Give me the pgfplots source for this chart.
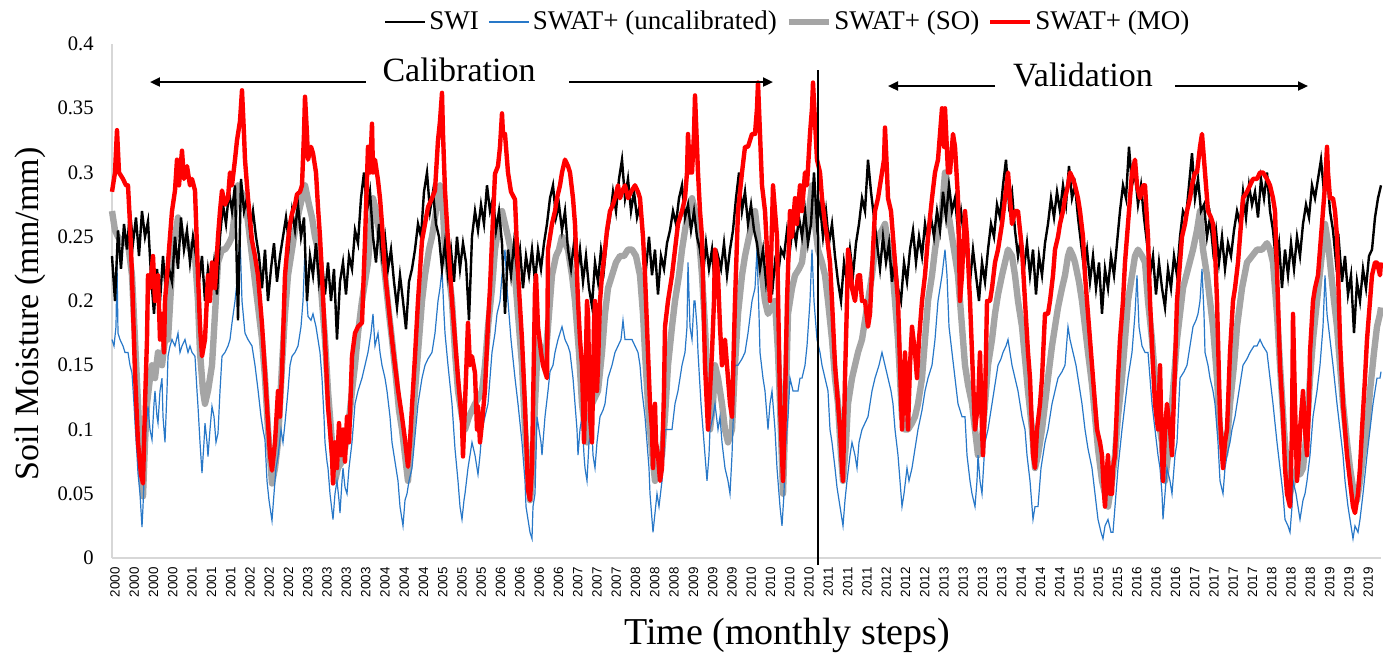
\documentclass[border=0pt]{standalone}
\usepackage{pgfplots}
\pgfplotsset{compat=1.18}
\usepackage{fontspec}
\setmainfont{Liberation Serif}
\newfontfamily\arialf{Liberation Sans}
\usetikzlibrary{arrows.meta}
\definecolor{swatblue}{RGB}{40,120,200}
\definecolor{sogray}{RGB}{165,165,165}
\definecolor{axgray}{RGB}{215,215,215}
\begin{document}
\begin{tikzpicture}
\path[use as bounding box] (-56pt,-56pt) rectangle (635.5pt,279pt);
\begin{axis}[
  at={(0,0)}, anchor=south west,
  scale only axis, width=634.5pt, height=257pt,
  xmin=-1, xmax=1268, ymin=0, ymax=0.4,
  clip=false,
  axis x line*=bottom, axis y line*=left,
  axis line style={draw=axgray, line width=0.75pt},
  major tick length=0pt,
  xtick={2,21.28,...,1256},
  xticklabels={2000,2000,2000,2000,2001,2001,2001,2002,2002,2002,2003,2003,2003,2003,2004,2004,2004,2005,2005,2005,2006,2006,2006,2006,2007,2007,2007,2008,2008,2008,2009,2009,2009,2010,2010,2010,2010,2011,2011,2011,2012,2012,2012,2013,2013,2013,2013,2014,2014,2014,2015,2015,2015,2016,2016,2016,2017,2017,2017,2017,2018,2018,2018,2019,2019,2019},
  ytick={0,0.05,0.1,0.15,0.2,0.25,0.3,0.35,0.4},
  yticklabels={0,0.05,0.1,0.15,0.2,0.25,0.3,0.35,0.4},
  xticklabel style={rotate=90, anchor=east, inner sep=0pt, font=\arialf\fontsize{6.7}{7}\selectfont},
  yticklabel style={anchor=east, inner sep=0pt, font=\rmfamily\fontsize{10.3}{11}\selectfont},
  xticklabel shift=4.5pt, yticklabel shift=9pt,
  ylabel={Soil Moisture (mm/mm)},
  ylabel style={at={(axis description cs:-0.0646,0.475)}, anchor=center, font=\fontsize{17}{18}\selectfont},
  xlabel={Time (monthly steps)},
  xlabel style={at={(axis description cs:0.532,-0.15)}, anchor=center, font=\fontsize{19}{20}\selectfont},
  legend style={at={(axis description cs:0.533,1.043)}, anchor=center, draw=none, fill=none,
    font=\fontsize{13.5}{14}\selectfont, inner sep=0pt,
    nodes={inner sep=1.5pt},
    /tikz/every even column/.append style={column sep=3pt}},
  legend columns=4,
  legend image code/.code={\draw[#1] (0pt,0pt) -- (20pt,0pt);},
]
\addlegendimage{black, line width=1pt}
\addlegendentry{SWI}
\addlegendimage{swatblue, line width=1pt}
\addlegendentry{SWAT+ (uncalibrated)}
\addlegendimage{sogray, line width=2.8pt}
\addlegendentry{SWAT+ (SO)}
\addlegendimage{red, line width=2pt}
\addlegendentry{SWAT+ (MO)}

% SWAT+ (SO)
\addplot[forget plot, sogray, line width=3.2pt, line join=round] coordinates {
(-1,0.27)(2,0.255)(5,0.25)(10,0.245)(15,0.245)(19,0.22)(22,0.17)(25,0.12)(28,0.07)(30,0.048)(32,0.09)(34,0.12)(37,0.14)(39,0.15)(42,0.14)(45,0.16)(49,0.15)(52,0.17)(55,0.17)(58,0.21)(60,0.24)(63,0.255)(65,0.265)(69,0.25)(72,0.25)(77,0.24)(82,0.235)(85,0.2)(87,0.16)(90,0.13)(92,0.12)(95,0.13)(99,0.15)(102,0.19)(105,0.23)(109,0.24)(112,0.24)(116,0.245)(119,0.25)(122,0.27)(125,0.29)(128,0.285)(132,0.28)(136,0.255)(139,0.235)(142,0.215)(145,0.196)(149,0.17)(152,0.14)(155,0.1)(159,0.058)(162,0.07)(165,0.09)(169,0.15)(172,0.19)(175,0.22)(179,0.24)(182,0.255)(186,0.27)(189,0.28)(192,0.29)(196,0.275)(199,0.265)(202,0.25)(205,0.24)(209,0.2)(212,0.17)(215,0.13)(219,0.09)(222,0.06)(225,0.07)(229,0.075)(232,0.085)(235,0.1)(239,0.13)(242,0.15)(245,0.175)(249,0.2)(252,0.215)(255,0.23)(258,0.26)(260,0.28)(263,0.27)(265,0.26)(269,0.24)(272,0.22)(276,0.19)(279,0.17)(283,0.14)(286,0.115)(289,0.1)(292,0.08)(295,0.06)(298,0.09)(302,0.13)(305,0.16)(309,0.2)(312,0.22)(316,0.24)(319,0.25)(323,0.27)(327,0.29)(330,0.27)(332,0.24)(336,0.22)(339,0.2)(342,0.16)(345,0.13)(349,0.11)(352,0.1)(356,0.11)(359,0.115)(362,0.12)(366,0.125)(369,0.13)(372,0.15)(375,0.18)(379,0.21)(382,0.24)(386,0.26)(389,0.27)(392,0.26)(395,0.25)(399,0.235)(402,0.22)(405,0.19)(409,0.15)(412,0.1)(415,0.07)(417,0.045)(419,0.06)(422,0.12)(425,0.17)(429,0.16)(432,0.15)(436,0.19)(439,0.22)(443,0.235)(446,0.24)(449,0.25)(452,0.245)(455,0.24)(459,0.22)(462,0.2)(466,0.16)(469,0.12)(472,0.1)(474,0.09)(477,0.11)(479,0.12)(482,0.125)(485,0.13)(489,0.16)(492,0.19)(495,0.21)(499,0.22)(503,0.23)(507,0.235)(511,0.235)(515,0.24)(519,0.24)(523,0.235)(527,0.22)(530,0.19)(532,0.16)(535,0.12)(537,0.1)(540,0.075)(542,0.06)(545,0.07)(549,0.08)(552,0.11)(555,0.15)(559,0.18)(562,0.2)(566,0.22)(569,0.24)(573,0.26)(576,0.27)(579,0.28)(582,0.27)(585,0.26)(589,0.22)(592,0.18)(595,0.13)(597,0.1)(600,0.12)(602,0.15)(605,0.14)(609,0.12)(612,0.1)(615,0.09)(619,0.1)(622,0.15)(625,0.19)(629,0.22)(632,0.235)(636,0.25)(639,0.26)(642,0.27)(645,0.25)(649,0.22)(652,0.2)(655,0.19)(659,0.195)(662,0.2)(665,0.16)(667,0.12)(670,0.05)(672,0.1)(675,0.19)(679,0.21)(682,0.22)(686,0.225)(689,0.23)(692,0.25)(696,0.27)(699,0.29)(702,0.26)(705,0.24)(709,0.23)(712,0.22)(715,0.2)(719,0.17)(722,0.14)(725,0.12)(728,0.08)(730,0.06)(733,0.09)(735,0.12)(739,0.14)(742,0.15)(745,0.16)(749,0.17)(752,0.185)(755,0.2)(759,0.22)(762,0.24)(765,0.25)(769,0.255)(772,0.26)(775,0.245)(779,0.23)(782,0.2)(785,0.17)(789,0.11)(792,0.1)(795,0.1)(799,0.105)(802,0.11)(805,0.12)(809,0.14)(812,0.17)(815,0.2)(819,0.22)(822,0.24)(826,0.26)(829,0.27)(832,0.3)(835,0.27)(839,0.25)(842,0.235)(845,0.22)(849,0.18)(852,0.15)(855,0.135)(859,0.12)(862,0.1)(865,0.08)(868,0.09)(870,0.1)(873,0.13)(875,0.15)(879,0.17)(882,0.19)(885,0.205)(889,0.22)(892,0.23)(895,0.24)(899,0.235)(902,0.22)(905,0.2)(909,0.18)(912,0.155)(915,0.13)(919,0.1)(922,0.07)(925,0.08)(929,0.1)(932,0.12)(935,0.14)(939,0.165)(942,0.18)(945,0.195)(949,0.21)(952,0.22)(955,0.235)(957,0.24)(960,0.235)(962,0.23)(966,0.215)(969,0.2)(972,0.18)(975,0.16)(979,0.135)(982,0.11)(985,0.085)(989,0.06)(992,0.05)(995,0.04)(999,0.06)(1002,0.08)(1005,0.11)(1009,0.14)(1012,0.17)(1015,0.2)(1019,0.22)(1022,0.235)(1025,0.24)(1029,0.235)(1032,0.23)(1035,0.2)(1039,0.17)(1042,0.14)(1045,0.11)(1049,0.09)(1052,0.06)(1055,0.08)(1057,0.1)(1061,0.14)(1064,0.17)(1067,0.19)(1070,0.21)(1075,0.225)(1080,0.24)(1084,0.255)(1087,0.27)(1090,0.24)(1094,0.22)(1097,0.2)(1100,0.18)(1104,0.14)(1107,0.1)(1110,0.085)(1112,0.08)(1115,0.1)(1117,0.12)(1121,0.15)(1124,0.18)(1129,0.21)(1134,0.23)(1139,0.235)(1144,0.24)(1149,0.24)(1154,0.245)(1157,0.24)(1160,0.23)(1164,0.19)(1167,0.15)(1171,0.1)(1174,0.07)(1177,0.05)(1180,0.06)(1184,0.07)(1187,0.065)(1190,0.07)(1194,0.1)(1197,0.14)(1200,0.17)(1204,0.2)(1208,0.23)(1212,0.26)(1215,0.245)(1217,0.23)(1221,0.2)(1224,0.18)(1227,0.15)(1230,0.12)(1234,0.09)(1237,0.07)(1241,0.05)(1244,0.045)(1247,0.06)(1250,0.08)(1254,0.1)(1257,0.13)(1261,0.16)(1264,0.18)(1267,0.19)(1268,0.195)
};

% SWAT+ (uncalibrated)
\addplot[forget plot, swatblue, line width=0.6pt] coordinates {
(-1,0.17)(1,0.165)(3,0.18)(4,0.23)(5,0.175)(7,0.17)(10,0.165)(12,0.16)(15,0.16)(17,0.15)(19,0.144)(21,0.12)(22,0.105)(24,0.08)(25,0.066)(27,0.05)(29,0.024)(30,0.04)(32,0.079)(33,0.1)(35,0.118)(37,0.1)(39,0.092)(41,0.12)(42,0.13)(44,0.11)(45,0.105)(47,0.13)(49,0.14)(50,0.11)(52,0.09)(54,0.13)(55,0.157)(57,0.165)(59,0.17)(62,0.165)(65,0.175)(67,0.16)(69,0.165)(72,0.17)(75,0.16)(77,0.165)(79,0.16)(82,0.157)(84,0.13)(85,0.118)(87,0.09)(89,0.066)(91,0.09)(92,0.105)(94,0.09)(95,0.079)(97,0.1)(99,0.118)(101,0.11)(103,0.09)(105,0.097)(107,0.13)(109,0.157)(112,0.16)(115,0.165)(117,0.17)(119,0.183)(122,0.2)(125,0.222)(127,0.25)(129,0.2)(132,0.175)(135,0.17)(139,0.165)(142,0.15)(145,0.131)(148,0.11)(150,0.1)(152,0.092)(154,0.06)(156,0.045)(159,0.029)(161,0.05)(163,0.07)(165,0.079)(168,0.1)(170,0.09)(172,0.105)(175,0.13)(177,0.15)(179,0.157)(182,0.16)(185,0.165)(188,0.18)(190,0.2)(192,0.24)(194,0.2)(195,0.188)(198,0.185)(200,0.19)(203,0.18)(205,0.17)(207,0.16)(209,0.14)(211,0.11)(212,0.09)(214,0.075)(215,0.07)(217,0.05)(220,0.03)(222,0.05)(224,0.06)(226,0.045)(227,0.035)(229,0.06)(230,0.07)(232,0.055)(234,0.05)(236,0.07)(239,0.09)(241,0.11)(242,0.12)(245,0.13)(249,0.14)(252,0.15)(255,0.16)(258,0.175)(260,0.19)(262,0.165)(265,0.175)(267,0.16)(269,0.15)(272,0.14)(274,0.13)(277,0.11)(279,0.09)(282,0.075)(285,0.06)(287,0.04)(290,0.025)(292,0.045)(294,0.05)(296,0.06)(299,0.07)(302,0.095)(305,0.12)(309,0.14)(312,0.15)(315,0.155)(319,0.16)(322,0.175)(325,0.2)(327,0.21)(329,0.225)(331,0.19)(332,0.175)(335,0.15)(339,0.12)(342,0.085)(345,0.06)(347,0.04)(349,0.03)(351,0.045)(352,0.05)(355,0.07)(357,0.08)(359,0.09)(362,0.08)(365,0.065)(367,0.08)(369,0.1)(372,0.11)(375,0.12)(377,0.14)(379,0.16)(382,0.175)(384,0.19)(387,0.2)(389,0.22)(392,0.24)(394,0.21)(395,0.2)(398,0.17)(402,0.14)(405,0.12)(409,0.09)(412,0.06)(413,0.04)(415,0.03)(417,0.02)(419,0.015)(420,0.04)(422,0.05)(424,0.11)(426,0.1)(428,0.09)(429,0.08)(431,0.1)(432,0.11)(435,0.13)(437,0.145)(440,0.15)(442,0.16)(445,0.17)(449,0.18)(452,0.17)(455,0.165)(457,0.16)(460,0.14)(462,0.12)(464,0.1)(465,0.08)(467,0.1)(469,0.11)(471,0.08)(472,0.07)(474,0.06)(476,0.09)(479,0.1)(480,0.08)(482,0.07)(484,0.09)(487,0.11)(490,0.115)(492,0.12)(495,0.14)(499,0.15)(502,0.16)(505,0.165)(508,0.17)(510,0.185)(512,0.17)(515,0.17)(519,0.17)(522,0.165)(525,0.16)(527,0.15)(529,0.13)(532,0.11)(534,0.09)(536,0.07)(537,0.05)(539,0.03)(540,0.02)(542,0.035)(544,0.05)(546,0.04)(549,0.06)(551,0.08)(552,0.1)(555,0.1)(559,0.1)(562,0.12)(565,0.13)(569,0.15)(572,0.16)(574,0.18)(575,0.23)(577,0.18)(579,0.17)(581,0.2)(582,0.2)(584,0.18)(585,0.16)(588,0.12)(590,0.1)(592,0.08)(594,0.06)(596,0.08)(597,0.1)(600,0.11)(602,0.12)(605,0.1)(607,0.11)(609,0.09)(612,0.07)(615,0.06)(617,0.05)(619,0.08)(622,0.15)(625,0.15)(629,0.155)(632,0.16)(635,0.175)(639,0.2)(642,0.21)(644,0.24)(646,0.19)(647,0.16)(650,0.14)(652,0.13)(654,0.11)(655,0.1)(657,0.12)(659,0.13)(661,0.11)(662,0.1)(664,0.07)(665,0.06)(667,0.04)(669,0.025)(671,0.05)(672,0.08)(675,0.11)(677,0.14)(680,0.13)(682,0.13)(685,0.13)(687,0.14)(689,0.14)(692,0.15)(694,0.165)(697,0.2)(699,0.24)(701,0.2)(704,0.17)(707,0.16)(709,0.15)(712,0.14)(715,0.13)(717,0.1)(719,0.09)(722,0.07)(724,0.055)(727,0.04)(729,0.03)(730,0.025)(732,0.045)(734,0.06)(737,0.08)(739,0.09)(742,0.08)(744,0.07)(746,0.09)(749,0.1)(752,0.105)(755,0.11)(759,0.13)(762,0.14)(766,0.15)(769,0.16)(772,0.15)(775,0.14)(778,0.13)(780,0.12)(782,0.1)(785,0.08)(787,0.06)(789,0.04)(791,0.05)(794,0.07)(796,0.06)(799,0.07)(802,0.085)(805,0.1)(809,0.115)(812,0.13)(815,0.14)(819,0.15)(822,0.17)(825,0.2)(829,0.22)(832,0.24)(834,0.22)(836,0.18)(839,0.16)(842,0.14)(845,0.12)(849,0.11)(852,0.11)(854,0.08)(857,0.06)(859,0.05)(862,0.04)(864,0.06)(865,0.08)(867,0.06)(869,0.05)(872,0.09)(875,0.1)(879,0.12)(882,0.135)(885,0.15)(888,0.155)(890,0.16)(893,0.165)(895,0.17)(897,0.16)(899,0.15)(902,0.14)(905,0.13)(909,0.11)(912,0.1)(914,0.08)(917,0.06)(919,0.04)(920,0.03)(922,0.04)(925,0.04)(928,0.07)(932,0.09)(935,0.1)(939,0.12)(942,0.13)(945,0.14)(949,0.145)(952,0.15)(955,0.18)(957,0.17)(960,0.16)(963,0.15)(965,0.14)(969,0.12)(972,0.1)(975,0.085)(979,0.07)(982,0.05)(985,0.03)(988,0.02)(990,0.015)(992,0.025)(995,0.03)(998,0.02)(1000,0.02)(1002,0.04)(1005,0.07)(1009,0.1)(1012,0.12)(1015,0.14)(1019,0.16)(1022,0.19)(1024,0.22)(1026,0.18)(1029,0.165)(1032,0.16)(1035,0.16)(1039,0.12)(1042,0.1)(1045,0.08)(1047,0.07)(1049,0.05)(1050,0.03)(1052,0.05)(1054,0.07)(1057,0.06)(1059,0.05)(1062,0.08)(1064,0.09)(1067,0.14)(1071,0.145)(1074,0.15)(1077,0.165)(1080,0.18)(1083,0.185)(1085,0.19)(1087,0.2)(1089,0.225)(1091,0.19)(1092,0.16)(1095,0.15)(1097,0.14)(1100,0.13)(1102,0.12)(1105,0.09)(1107,0.06)(1110,0.05)(1112,0.07)(1114,0.08)(1117,0.09)(1119,0.1)(1122,0.11)(1124,0.12)(1127,0.135)(1130,0.15)(1134,0.155)(1137,0.16)(1141,0.165)(1144,0.165)(1147,0.17)(1150,0.165)(1154,0.16)(1157,0.14)(1160,0.12)(1164,0.09)(1167,0.07)(1170,0.05)(1172,0.03)(1175,0.025)(1177,0.02)(1179,0.04)(1180,0.06)(1183,0.05)(1185,0.04)(1187,0.03)(1190,0.045)(1192,0.05)(1194,0.06)(1197,0.08)(1200,0.11)(1204,0.13)(1207,0.15)(1210,0.18)(1212,0.22)(1214,0.19)(1217,0.17)(1220,0.15)(1224,0.12)(1227,0.1)(1230,0.08)(1232,0.06)(1235,0.04)(1237,0.03)(1240,0.015)(1242,0.025)(1245,0.02)(1247,0.03)(1250,0.05)(1254,0.08)(1257,0.1)(1260,0.12)(1264,0.14)(1267,0.14)(1268,0.145)
};

% SWI
\addplot[forget plot, black, line width=1.2pt] coordinates {
(-1,0.235)(2,0.20)(5,0.255)(8,0.225)(11,0.26)(14,0.24)(17,0.27)(20,0.245)(23,0.265)(26,0.235)(29,0.27)(32,0.25)(35,0.262)(38,0.22)(41,0.19)(44,0.225)(47,0.2)(50,0.235)(53,0.205)(56,0.225)(59,0.215)(62,0.25)(65,0.225)(68,0.265)(71,0.24)(74,0.255)(77,0.23)(80,0.25)(83,0.235)(86,0.215)(89,0.235)(92,0.2)(95,0.225)(98,0.21)(101,0.23)(104,0.205)(107,0.25)(110,0.275)(113,0.26)(116,0.285)(119,0.27)(122,0.29)(125,0.185)(128,0.295)(131,0.27)(134,0.28)(137,0.255)(140,0.27)(143,0.25)(146,0.235)(149,0.21)(152,0.24)(155,0.2)(158,0.225)(161,0.245)(164,0.215)(167,0.235)(170,0.25)(173,0.265)(176,0.245)(179,0.27)(182,0.255)(185,0.275)(188,0.25)(191,0.265)(194,0.2)(197,0.235)(200,0.22)(203,0.245)(206,0.215)(209,0.23)(212,0.205)(215,0.23)(218,0.2)(221,0.225)(224,0.17)(227,0.215)(230,0.23)(233,0.205)(236,0.235)(239,0.225)(242,0.255)(245,0.245)(248,0.28)(251,0.3)(254,0.27)(257,0.285)(260,0.25)(263,0.23)(266,0.26)(269,0.235)(272,0.25)(275,0.225)(278,0.24)(281,0.215)(284,0.195)(287,0.22)(290,0.2)(293,0.178)(296,0.215)(299,0.225)(302,0.24)(305,0.26)(308,0.25)(311,0.285)(314,0.3)(317,0.27)(320,0.285)(323,0.26)(326,0.25)(329,0.225)(332,0.245)(335,0.22)(338,0.24)(341,0.215)(344,0.25)(347,0.225)(350,0.245)(353,0.23)(356,0.185)(359,0.25)(362,0.27)(365,0.255)(368,0.275)(371,0.26)(374,0.29)(377,0.27)(380,0.28)(383,0.255)(386,0.27)(389,0.245)(392,0.19)(395,0.24)(398,0.22)(401,0.245)(404,0.225)(407,0.24)(410,0.21)(413,0.235)(416,0.22)(419,0.24)(422,0.215)(425,0.24)(428,0.225)(431,0.245)(434,0.26)(437,0.28)(440,0.29)(443,0.265)(446,0.275)(449,0.255)(452,0.27)(455,0.24)(458,0.225)(461,0.245)(464,0.22)(467,0.24)(470,0.215)(473,0.235)(476,0.21)(479,0.196)(482,0.23)(485,0.215)(488,0.24)(491,0.225)(494,0.25)(497,0.265)(500,0.285)(503,0.27)(506,0.295)(509,0.31)(512,0.28)(515,0.295)(518,0.27)(521,0.285)(524,0.265)(527,0.275)(530,0.245)(533,0.225)(536,0.25)(539,0.22)(542,0.24)(545,0.205)(548,0.235)(551,0.225)(554,0.245)(557,0.255)(560,0.27)(563,0.26)(566,0.28)(569,0.29)(572,0.265)(575,0.275)(578,0.255)(581,0.27)(584,0.25)(587,0.24)(590,0.22)(593,0.245)(596,0.225)(599,0.24)(602,0.21)(605,0.235)(608,0.225)(611,0.245)(614,0.22)(617,0.24)(620,0.255)(623,0.28)(626,0.3)(629,0.27)(632,0.285)(635,0.26)(638,0.275)(641,0.255)(644,0.245)(647,0.225)(650,0.24)(653,0.215)(656,0.235)(659,0.205)(662,0.23)(665,0.22)(668,0.24)(671,0.235)(674,0.255)(677,0.24)(680,0.26)(683,0.245)(686,0.265)(689,0.25)(692,0.27)(695,0.245)(698,0.26)(701,0.3)(704,0.26)(707,0.275)(710,0.25)(713,0.27)(716,0.245)(719,0.26)(722,0.235)(725,0.215)(728,0.2)(731,0.23)(734,0.215)(737,0.24)(740,0.22)(743,0.245)(746,0.26)(749,0.28)(752,0.27)(755,0.31)(758,0.285)(761,0.265)(764,0.245)(767,0.225)(770,0.25)(773,0.23)(776,0.245)(779,0.215)(782,0.235)(785,0.21)(788,0.2)(791,0.23)(794,0.215)(797,0.24)(800,0.255)(803,0.23)(806,0.25)(809,0.235)(812,0.26)(815,0.245)(818,0.265)(821,0.25)(824,0.27)(827,0.255)(830,0.285)(833,0.265)(836,0.29)(839,0.27)(842,0.28)(845,0.255)(848,0.27)(851,0.25)(854,0.235)(857,0.215)(860,0.24)(863,0.22)(866,0.2)(869,0.23)(872,0.215)(875,0.24)(878,0.26)(881,0.25)(884,0.275)(887,0.265)(890,0.29)(893,0.31)(896,0.275)(899,0.285)(902,0.255)(905,0.235)(908,0.25)(911,0.225)(914,0.245)(917,0.22)(920,0.24)(923,0.205)(926,0.235)(929,0.22)(932,0.245)(935,0.26)(938,0.28)(941,0.265)(944,0.285)(947,0.27)(950,0.29)(953,0.275)(956,0.305)(959,0.28)(962,0.29)(965,0.265)(968,0.245)(971,0.225)(974,0.24)(977,0.215)(980,0.235)(983,0.21)(986,0.23)(989,0.19)(992,0.225)(995,0.21)(998,0.235)(1001,0.22)(1004,0.245)(1007,0.27)(1010,0.29)(1013,0.28)(1016,0.32)(1019,0.29)(1022,0.3)(1025,0.275)(1028,0.29)(1031,0.265)(1034,0.245)(1037,0.22)(1040,0.235)(1043,0.205)(1046,0.23)(1049,0.21)(1052,0.195)(1055,0.225)(1058,0.21)(1061,0.235)(1064,0.22)(1067,0.25)(1070,0.27)(1073,0.265)(1076,0.29)(1079,0.315)(1082,0.28)(1085,0.295)(1088,0.27)(1091,0.275)(1094,0.25)(1097,0.265)(1100,0.24)(1103,0.255)(1106,0.23)(1109,0.25)(1112,0.225)(1115,0.245)(1118,0.235)(1121,0.255)(1124,0.27)(1127,0.26)(1130,0.285)(1133,0.265)(1136,0.29)(1139,0.275)(1142,0.285)(1145,0.265)(1148,0.295)(1151,0.28)(1154,0.3)(1157,0.27)(1160,0.255)(1163,0.23)(1166,0.245)(1169,0.21)(1172,0.24)(1175,0.22)(1178,0.245)(1181,0.225)(1184,0.25)(1187,0.235)(1190,0.26)(1193,0.275)(1196,0.265)(1199,0.29)(1202,0.28)(1205,0.295)(1208,0.31)(1211,0.285)(1214,0.3)(1217,0.27)(1220,0.255)(1223,0.23)(1226,0.245)(1229,0.215)(1232,0.235)(1235,0.205)(1238,0.22)(1241,0.175)(1244,0.215)(1247,0.2)(1250,0.225)(1253,0.21)(1256,0.235)(1259,0.24)(1262,0.265)(1265,0.28)(1268,0.29)
};

% SWAT+ (MO)
\addplot[forget plot, red, line width=2.2pt, line join=round] coordinates {
(-1,0.285)(2,0.3)(4,0.333)(6,0.3)(10,0.295)(13,0.29)(15,0.29)(17,0.26)(19,0.22)(22,0.144)(25,0.09)(28,0.065)(30,0.058)(32,0.12)(34,0.17)(35,0.22)(37,0.21)(40,0.235)(42,0.2)(45,0.22)(47,0.17)(49,0.19)(51,0.16)(52,0.2)(55,0.23)(57,0.25)(59,0.27)(62,0.286)(64,0.31)(66,0.29)(69,0.317)(71,0.295)(74,0.305)(77,0.29)(79,0.295)(82,0.286)(85,0.22)(87,0.18)(89,0.157)(92,0.17)(95,0.22)(97,0.2)(99,0.23)(102,0.21)(105,0.25)(107,0.27)(109,0.286)(112,0.275)(115,0.28)(117,0.3)(119,0.29)(122,0.31)(124,0.325)(127,0.34)(129,0.364)(131,0.33)(132,0.31)(135,0.28)(139,0.247)(142,0.235)(145,0.22)(149,0.182)(152,0.144)(155,0.105)(157,0.08)(159,0.068)(162,0.09)(165,0.13)(167,0.11)(169,0.144)(172,0.22)(175,0.247)(177,0.26)(179,0.268)(182,0.275)(184,0.283)(187,0.285)(189,0.29)(191,0.33)(192,0.359)(194,0.33)(195,0.31)(198,0.32)(200,0.315)(203,0.3)(205,0.273)(207,0.25)(209,0.22)(212,0.17)(215,0.118)(217,0.1)(219,0.079)(220,0.058)(222,0.09)(224,0.07)(226,0.105)(228,0.08)(230,0.1)(232,0.075)(234,0.11)(236,0.09)(239,0.157)(242,0.175)(245,0.18)(249,0.183)(252,0.247)(255,0.32)(257,0.3)(259,0.338)(260,0.3)(262,0.31)(265,0.294)(267,0.28)(269,0.26)(272,0.222)(275,0.2)(279,0.17)(282,0.15)(285,0.131)(289,0.11)(292,0.092)(295,0.071)(297,0.09)(299,0.118)(302,0.157)(305,0.2)(309,0.247)(312,0.26)(315,0.273)(319,0.28)(322,0.286)(325,0.325)(327,0.34)(329,0.362)(330,0.33)(332,0.286)(335,0.247)(339,0.2)(342,0.17)(345,0.14)(349,0.105)(350,0.079)(352,0.12)(355,0.183)(357,0.15)(359,0.157)(362,0.144)(364,0.1)(365,0.118)(367,0.09)(369,0.105)(372,0.131)(375,0.183)(377,0.21)(379,0.247)(382,0.299)(385,0.305)(387,0.32)(389,0.346)(390,0.33)(392,0.33)(395,0.3)(398,0.285)(402,0.279)(405,0.222)(409,0.17)(412,0.118)(415,0.053)(417,0.045)(419,0.07)(422,0.209)(423,0.22)(425,0.18)(428,0.16)(430,0.15)(432,0.145)(434,0.14)(435,0.24)(437,0.25)(439,0.26)(442,0.27)(444,0.28)(447,0.29)(449,0.3)(452,0.31)(455,0.305)(457,0.3)(460,0.28)(462,0.26)(465,0.2)(467,0.17)(469,0.15)(471,0.09)(472,0.12)(474,0.2)(475,0.19)(477,0.11)(479,0.09)(481,0.18)(482,0.2)(484,0.13)(485,0.15)(487,0.2)(489,0.22)(492,0.24)(494,0.255)(497,0.27)(500,0.275)(502,0.28)(505,0.29)(507,0.28)(509,0.285)(512,0.29)(515,0.28)(518,0.285)(522,0.29)(525,0.285)(527,0.28)(530,0.25)(532,0.22)(535,0.16)(537,0.12)(539,0.1)(540,0.07)(542,0.12)(543,0.09)(545,0.08)(547,0.06)(549,0.07)(551,0.13)(552,0.18)(555,0.2)(559,0.22)(562,0.24)(565,0.26)(569,0.27)(572,0.28)(574,0.3)(575,0.33)(577,0.3)(579,0.3)(581,0.33)(582,0.36)(584,0.32)(585,0.3)(587,0.27)(589,0.25)(592,0.15)(595,0.1)(597,0.13)(599,0.16)(601,0.2)(602,0.24)(604,0.23)(605,0.22)(607,0.18)(609,0.15)(612,0.17)(615,0.14)(617,0.12)(619,0.11)(622,0.2)(625,0.27)(629,0.3)(632,0.32)(635,0.32)(639,0.33)(642,0.33)(644,0.35)(645,0.37)(647,0.33)(649,0.29)(652,0.27)(654,0.24)(657,0.2)(659,0.26)(660,0.29)(662,0.27)(664,0.25)(667,0.12)(669,0.08)(670,0.06)(672,0.12)(674,0.2)(677,0.27)(679,0.25)(682,0.28)(684,0.26)(687,0.29)(689,0.27)(692,0.3)(694,0.29)(697,0.33)(699,0.35)(700,0.37)(702,0.34)(704,0.31)(707,0.3)(709,0.28)(712,0.26)(714,0.25)(717,0.23)(719,0.2)(722,0.15)(725,0.12)(727,0.1)(729,0.07)(730,0.06)(732,0.14)(734,0.2)(735,0.24)(737,0.23)(739,0.21)(742,0.2)(745,0.22)(747,0.22)(749,0.2)(752,0.2)(755,0.18)(757,0.19)(760,0.24)(762,0.27)(765,0.28)(769,0.3)(771,0.31)(772,0.335)(774,0.3)(775,0.28)(778,0.27)(780,0.25)(782,0.23)(785,0.2)(787,0.15)(789,0.1)(791,0.14)(792,0.16)(794,0.12)(795,0.1)(797,0.15)(799,0.18)(802,0.16)(804,0.14)(806,0.17)(809,0.2)(812,0.22)(815,0.25)(819,0.28)(822,0.3)(825,0.31)(827,0.33)(829,0.35)(831,0.32)(832,0.35)(835,0.3)(837,0.3)(840,0.33)(842,0.32)(845,0.28)(847,0.2)(849,0.22)(852,0.27)(854,0.25)(857,0.2)(859,0.16)(862,0.1)(865,0.12)(867,0.16)(869,0.1)(870,0.08)(872,0.12)(874,0.2)(877,0.2)(879,0.21)(882,0.23)(885,0.24)(889,0.26)(892,0.28)(895,0.3)(897,0.28)(899,0.26)(902,0.27)(905,0.27)(909,0.24)(912,0.2)(915,0.16)(917,0.14)(920,0.08)(922,0.07)(924,0.1)(927,0.12)(929,0.14)(932,0.19)(935,0.19)(937,0.2)(940,0.22)(942,0.24)(945,0.25)(947,0.26)(950,0.27)(952,0.28)(955,0.29)(957,0.3)(960,0.295)(962,0.29)(965,0.28)(967,0.27)(970,0.25)(972,0.22)(975,0.19)(979,0.15)(982,0.12)(984,0.1)(987,0.09)(989,0.08)(991,0.05)(992,0.04)(994,0.07)(995,0.08)(997,0.05)(999,0.05)(1000,0.07)(1002,0.08)(1005,0.14)(1007,0.17)(1010,0.2)(1012,0.23)(1015,0.26)(1017,0.28)(1019,0.3)(1022,0.31)(1024,0.29)(1027,0.28)(1030,0.29)(1032,0.29)(1035,0.25)(1037,0.2)(1040,0.15)(1042,0.12)(1045,0.1)(1047,0.15)(1049,0.08)(1050,0.06)(1052,0.1)(1054,0.12)(1057,0.1)(1059,0.08)(1062,0.15)(1064,0.2)(1067,0.23)(1069,0.25)(1072,0.26)(1074,0.27)(1077,0.28)(1079,0.29)(1082,0.3)(1084,0.3)(1087,0.32)(1089,0.33)(1091,0.31)(1092,0.3)(1095,0.27)(1098,0.265)(1100,0.26)(1102,0.24)(1104,0.2)(1107,0.11)(1109,0.08)(1110,0.07)(1112,0.09)(1114,0.1)(1117,0.16)(1120,0.2)(1122,0.21)(1125,0.23)(1128,0.26)(1130,0.28)(1134,0.285)(1137,0.29)(1140,0.295)(1144,0.295)(1147,0.3)(1150,0.3)(1154,0.295)(1157,0.29)(1160,0.28)(1162,0.27)(1165,0.2)(1167,0.15)(1170,0.11)(1172,0.07)(1174,0.05)(1177,0.04)(1179,0.1)(1180,0.19)(1182,0.12)(1184,0.06)(1186,0.08)(1187,0.1)(1189,0.12)(1190,0.13)(1192,0.1)(1194,0.08)(1196,0.12)(1197,0.16)(1200,0.2)(1202,0.21)(1205,0.22)(1208,0.25)(1210,0.27)(1212,0.29)(1214,0.32)(1215,0.3)(1217,0.28)(1220,0.28)(1222,0.27)(1224,0.25)(1227,0.17)(1230,0.12)(1232,0.1)(1234,0.08)(1237,0.06)(1240,0.04)(1242,0.035)(1245,0.05)(1247,0.07)(1249,0.1)(1252,0.14)(1254,0.17)(1257,0.2)(1259,0.22)(1262,0.23)(1264,0.23)(1267,0.22)(1268,0.23)
};

% annotations
\draw[black, line width=1pt] (axis cs:705,-0.0055) -- (axis cs:705,0.38);
\node[font=\fontsize{17}{18}\selectfont] at (axis cs:346,0.3798) {Calibration};
\draw[black, line width=1pt, -{Triangle[length=5pt,width=4.5pt]}] (axis cs:253,0.3704) -- (axis cs:37,0.3704);
\draw[black, line width=1pt, -{Triangle[length=5pt,width=4.5pt]}] (axis cs:456,0.3704) -- (axis cs:660,0.3704);
\node[font=\fontsize{17}{18}\selectfont] at (axis cs:970,0.3759) {Validation};
\draw[black, line width=1pt, -{Triangle[length=5pt,width=4.5pt]}] (axis cs:882,0.3673) -- (axis cs:775,0.3673);
\draw[black, line width=1pt, -{Triangle[length=5pt,width=4.5pt]}] (axis cs:1062,0.3673) -- (axis cs:1195,0.3673);
\end{axis}
\end{tikzpicture}
\end{document}
